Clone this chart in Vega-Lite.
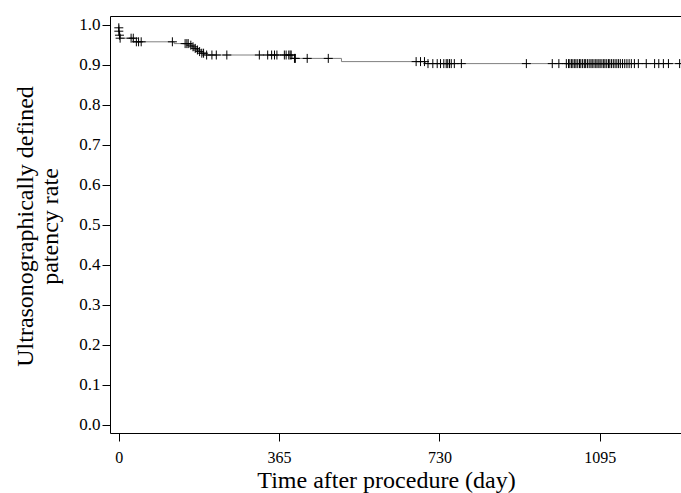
{
  "$schema": "https://vega.github.io/schema/vega-lite/v6.json",
  "width": 571,
  "height": 417,
  "autosize": {"type": "none"},
  "padding": {"left": 110, "top": 16, "right": 0, "bottom": 60},
  "background": "white",
  "config": {
    "view": {"stroke": null},
    "axis": {
      "labelFont": "Liberation Serif",
      "titleFont": "Liberation Serif",
      "labelColor": "black",
      "titleColor": "black",
      "tickColor": "black",
      "domainColor": "black",
      "domainWidth": 1,
      "grid": false,
      "titleFontWeight": "normal"
    }
  },
  "datasets": {
    "curve": [
      {"day": 0, "surv": 1.0},
      {"day": 0.5, "surv": 0.9925},
      {"day": 1, "surv": 0.984},
      {"day": 2, "surv": 0.974},
      {"day": 4, "surv": 0.9665},
      {"day": 33, "surv": 0.9575},
      {"day": 126, "surv": 0.953},
      {"day": 162, "surv": 0.949},
      {"day": 167, "surv": 0.945},
      {"day": 172, "surv": 0.941},
      {"day": 177, "surv": 0.937},
      {"day": 182, "surv": 0.933},
      {"day": 187, "surv": 0.929},
      {"day": 195, "surv": 0.9245},
      {"day": 395, "surv": 0.916},
      {"day": 507, "surv": 0.908},
      {"day": 698, "surv": 0.903},
      {"day": 1285, "surv": 0.903}
    ],
    "censor": [
      {"day": 0, "surv": 0.9925},
      {"day": 0, "surv": 0.984},
      {"day": 1.5, "surv": 0.974},
      {"day": 3, "surv": 0.9665},
      {"day": 28, "surv": 0.9665},
      {"day": 33, "surv": 0.9665},
      {"day": 40, "surv": 0.9575},
      {"day": 45, "surv": 0.9575},
      {"day": 51, "surv": 0.9575},
      {"day": 122, "surv": 0.9575},
      {"day": 151, "surv": 0.953},
      {"day": 155, "surv": 0.953},
      {"day": 158, "surv": 0.953},
      {"day": 164, "surv": 0.949},
      {"day": 169, "surv": 0.945},
      {"day": 174, "surv": 0.941},
      {"day": 179, "surv": 0.937},
      {"day": 184, "surv": 0.933},
      {"day": 189, "surv": 0.929},
      {"day": 193, "surv": 0.929},
      {"day": 200, "surv": 0.9245},
      {"day": 212, "surv": 0.9245},
      {"day": 222, "surv": 0.9245},
      {"day": 246, "surv": 0.9245},
      {"day": 320, "surv": 0.9245},
      {"day": 339, "surv": 0.9245},
      {"day": 348, "surv": 0.9245},
      {"day": 354.5, "surv": 0.9245},
      {"day": 360, "surv": 0.9245},
      {"day": 377, "surv": 0.9245},
      {"day": 381, "surv": 0.9245},
      {"day": 387, "surv": 0.9245},
      {"day": 390, "surv": 0.9245},
      {"day": 392.5, "surv": 0.9245},
      {"day": 400, "surv": 0.916},
      {"day": 402, "surv": 0.916},
      {"day": 429, "surv": 0.916},
      {"day": 477, "surv": 0.916},
      {"day": 677, "surv": 0.908},
      {"day": 687, "surv": 0.908},
      {"day": 696, "surv": 0.908},
      {"day": 704, "surv": 0.903},
      {"day": 715, "surv": 0.903},
      {"day": 725, "surv": 0.903},
      {"day": 732.5, "surv": 0.903},
      {"day": 740, "surv": 0.903},
      {"day": 745.5, "surv": 0.903},
      {"day": 749, "surv": 0.903},
      {"day": 753, "surv": 0.903},
      {"day": 757, "surv": 0.903},
      {"day": 764, "surv": 0.903},
      {"day": 780, "surv": 0.903},
      {"day": 928, "surv": 0.903},
      {"day": 987, "surv": 0.903},
      {"day": 1002, "surv": 0.903},
      {"day": 1019, "surv": 0.903},
      {"day": 1024, "surv": 0.903},
      {"day": 1027, "surv": 0.903},
      {"day": 1031, "surv": 0.903},
      {"day": 1034, "surv": 0.903},
      {"day": 1038, "surv": 0.903},
      {"day": 1041, "surv": 0.903},
      {"day": 1045, "surv": 0.903},
      {"day": 1049, "surv": 0.903},
      {"day": 1052, "surv": 0.903},
      {"day": 1056, "surv": 0.903},
      {"day": 1060, "surv": 0.903},
      {"day": 1063, "surv": 0.903},
      {"day": 1067, "surv": 0.903},
      {"day": 1071, "surv": 0.903},
      {"day": 1075, "surv": 0.903},
      {"day": 1078, "surv": 0.903},
      {"day": 1082, "surv": 0.903},
      {"day": 1086, "surv": 0.903},
      {"day": 1089, "surv": 0.903},
      {"day": 1093, "surv": 0.903},
      {"day": 1096, "surv": 0.903},
      {"day": 1100, "surv": 0.903},
      {"day": 1104, "surv": 0.903},
      {"day": 1107, "surv": 0.903},
      {"day": 1111, "surv": 0.903},
      {"day": 1115, "surv": 0.903},
      {"day": 1118, "surv": 0.903},
      {"day": 1122, "surv": 0.903},
      {"day": 1126, "surv": 0.903},
      {"day": 1130, "surv": 0.903},
      {"day": 1134, "surv": 0.903},
      {"day": 1138, "surv": 0.903},
      {"day": 1142, "surv": 0.903},
      {"day": 1147, "surv": 0.903},
      {"day": 1152, "surv": 0.903},
      {"day": 1157, "surv": 0.903},
      {"day": 1162, "surv": 0.903},
      {"day": 1167, "surv": 0.903},
      {"day": 1174, "surv": 0.903},
      {"day": 1183, "surv": 0.903},
      {"day": 1201, "surv": 0.903},
      {"day": 1220, "surv": 0.903},
      {"day": 1229.5, "surv": 0.903},
      {"day": 1240, "surv": 0.903},
      {"day": 1251.5, "surv": 0.903},
      {"day": 1277, "surv": 0.903}
    ]
  },
  "resolve": {"axis": {"x": "independent", "y": "independent"}},
  "layer": [
    {
      "data": {"name": "curve"},
      "mark": {"type": "line", "interpolate": "step-after", "color": "#808080", "strokeWidth": 1, "clip": true},
      "encoding": {
        "x": {
          "field": "day",
          "type": "quantitative",
          "scale": {"domain": [-20.04, 1280.1], "nice": false, "zero": false},
          "axis": {"orient": "top", "domain": true, "ticks": false, "labels": false, "title": null}
        },
        "y": {
          "field": "surv",
          "type": "quantitative",
          "scale": {"domain": [-0.0205, 1.022], "nice": false, "zero": false},
          "axis": null
        }
      }
    },
    {
      "data": {"name": "censor"},
      "mark": {"type": "point", "shape": "M-1,0L1,0M0,-1L0,1", "size": 81, "filled": false, "stroke": "black", "strokeWidth": 1, "opacity": 1, "clip": true},
      "encoding": {
        "x": {
          "field": "day",
          "type": "quantitative",
          "scale": {"domain": [-20.04, 1280.1], "nice": false, "zero": false},
          "axis": {
            "orient": "bottom",
            "values": [0, 365, 730, 1095],
            "format": "d",
            "tickSize": 8,
            "labelPadding": 8,
            "labelFontSize": 16,
            "title": "Time after procedure (day)",
            "titleFontSize": 24,
            "titleX": 276,
            "titleY": 54,
            "titleAlign": "center",
            "titleBaseline": "alphabetic"
          }
        },
        "y": {
          "field": "surv",
          "type": "quantitative",
          "scale": {"domain": [-0.0205, 1.022], "nice": false, "zero": false},
          "axis": {
            "orient": "left",
            "values": [0, 0.1, 0.2, 0.3, 0.4, 0.5, 0.6, 0.7, 0.8, 0.9, 1.0],
            "format": ".1f",
            "tickSize": 8,
            "labelPadding": 2,
            "labelFontSize": 17,
            "title": ["Ultrasonographically defined", "patency rate"],
            "titleFontSize": 24,
            "titleLineHeight": 25,
            "titleAngle": -90,
            "titleX": -78,
            "titleY": 210,
            "titleAlign": "center",
            "titleBaseline": "alphabetic"
          }
        }
      }
    }
  ]
}
